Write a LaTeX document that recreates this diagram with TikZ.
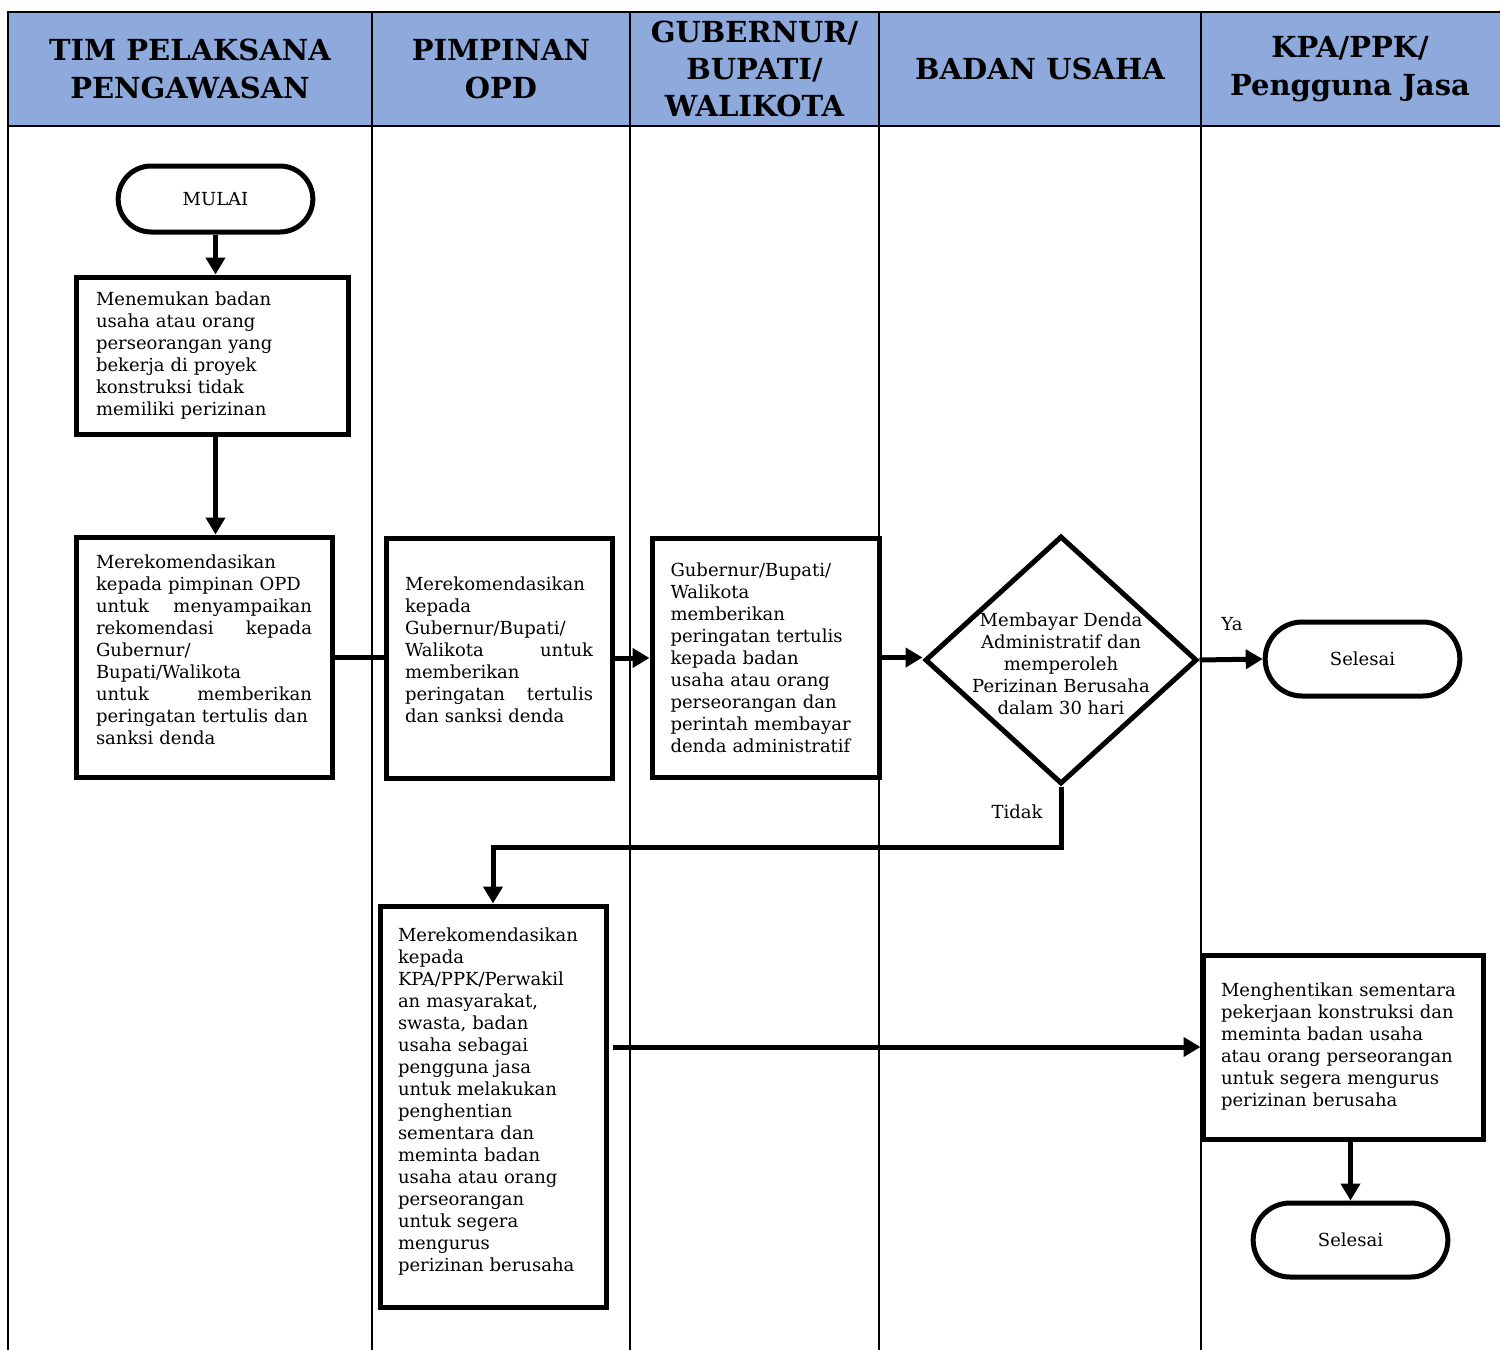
\documentclass[tikz,border=0pt]{standalone}
\usepackage{fontspec}
\setmainfont{DejaVu Serif}
\usetikzlibrary{shapes.geometric,shapes.misc,arrows.meta,calc}
\definecolor{hdrblue}{HTML}{8EA9DB}
\newcommand{\nohyph}{\hyphenpenalty=10000\relax\exhyphenpenalty=10000\relax}
\begin{document}
\begin{tikzpicture}[x=0.5pt,y=-0.5pt,
 hdr/.style={font=\bfseries\fontsize{14.5}{18.7}\selectfont, align=center},
 txt/.style={font=\fontsize{9}{11}\selectfont\nohyph},
 box/.style={draw, line width=2.5pt, rectangle, align=left, inner sep=0pt, txt},
 term/.style={draw, line width=2.5pt, rounded rectangle, minimum width=104pt, minimum height=37pt, txt},
 arr/.style={line width=2.5pt, -{Triangle[length=8.5pt,width=9.5pt]}},
 ln/.style={line width=2.5pt},
 frame/.style={line width=1.2pt}]
\useasboundingbox (0,0) rectangle (1500,1350);
% header
\fill[hdrblue] (8,12) rectangle (1500,126);
\draw[frame] (1500,12) -- (8,12) -- (8,1350);
\draw[frame] (8,126) -- (1500,126);
\foreach \xx in {372,630,879,1201} \draw[frame] (\xx,12) -- (\xx,1350);
\node[hdr] (h1) at (190,69) {TIM PELAKSANA\\PENGAWASAN};
\node[hdr] (h2) at (501,69) {PIMPINAN\\OPD};
\node[hdr] (h3) at (754.5,69) {GUBERNUR/\\BUPATI/\\WALIKOTA};
\node[hdr] (h4) at (1040,69) {BADAN USAHA};
\node[hdr] (h5) at (1350,69) {KPA/PPK/\\Pengguna Jasa};
% nodes
\node[term, minimum height=33pt] (mulai) at (215.5,199) {MULAI};
\node[box, minimum width=136pt, minimum height=78.5pt, text width=116pt] (b1) at (212,355.5)
 {Menemukan badan\\usaha atau orang\\perseorangan yang\\bekerja di proyek\\konstruksi tidak\\memiliki perizinan};
\node[box, minimum width=128pt, minimum height=120pt, text width=108pt] (b2) at (204,657)
 {Merekomendasikan\\kepada pimpinan OPD\\untuk\hfill menyampaikan\\rekomendasi\hfill kepada\\Gubernur/\\Bupati/Walikota\\untuk\hfill memberikan\\peringatan tertulis dan\\sanksi denda\\[-4pt]\mbox{}};
\node[box, minimum width=113pt, minimum height=120pt, text width=94pt] (b3) at (499,658)
 {Merekomendasikan\\kepada\\Gubernur/Bupati/\\Walikota\hfill untuk\\memberikan\\peringatan\hfill tertulis\\dan sanksi denda\\[-2.5pt]\mbox{}};
\node[box, minimum width=113.5pt, minimum height=119.5pt, text width=95pt] (b4) at (765.5,657.5)
 {Gubernur/Bupati/\\Walikota\\memberikan\\peringatan tertulis\\kepada badan\\usaha atau orang\\perseorangan dan\\perintah membayar\\denda administratif};
\node[draw, diamond, line width=2.5pt, inner sep=0pt, minimum width=136pt, minimum height=124pt] (dia) at (1061,660) {};
\node[txt, align=center] (diat) at (1061,664)
 {Membayar Denda\\Administratif dan\\memperoleh\\Perizinan Berusaha\\dalam 30 hari};
\node[term] (sel1) at (1362.5,659) {Selesai};
\node[box, minimum width=113pt, minimum height=200.5pt, text width=95pt] (b5) at (493,1106.5)
 {Merekomendasikan\\kepada\\KPA/PPK/Perwakil\\an masyarakat,\\swasta, badan\\usaha sebagai\\pengguna jasa\\untuk melakukan\\penghentian\\sementara dan\\meminta badan\\usaha atau orang\\perseorangan\\untuk segera\\mengurus\\perizinan berusaha\\[-4pt]\mbox{}};
\node[box, minimum width=140pt, minimum height=92pt, text width=122pt] (b6) at (1343,1047)
 {Menghentikan sementara\\pekerjaan konstruksi dan\\meminta badan usaha\\atau orang perseorangan\\untuk segera mengurus\\perizinan berusaha};
\node[term] (sel2) at (1350.5,1240) {Selesai};
\node[txt] (ya) at (1232,624) {Ya};
\node[txt] (tidak) at (1017,812) {Tidak};
% connectors
\draw[arr] (mulai.south) -- (mulai.south |- b1.north);
\draw[arr] (b1.south -| mulai.south) -- (b2.north -| mulai.south);
\draw[ln] (b2.east) -- (b2.east -| b3.west);
\draw[arr] (b3.east) -- (b3.east -| b4.west);
\draw[arr] (b4.east) -- (b4.east -| dia.west);
\draw[arr] (dia.east) -- (sel1.west);
\draw[arr] (dia.south) -- ++(0,61) -| (b5.north);
\draw[arr] ($(b6.west -| b5.east)+(4,0)$) -- (b6.west);
\draw[arr] (sel2.north |- b6.south) -- (sel2.north);
\end{tikzpicture}
\end{document}
